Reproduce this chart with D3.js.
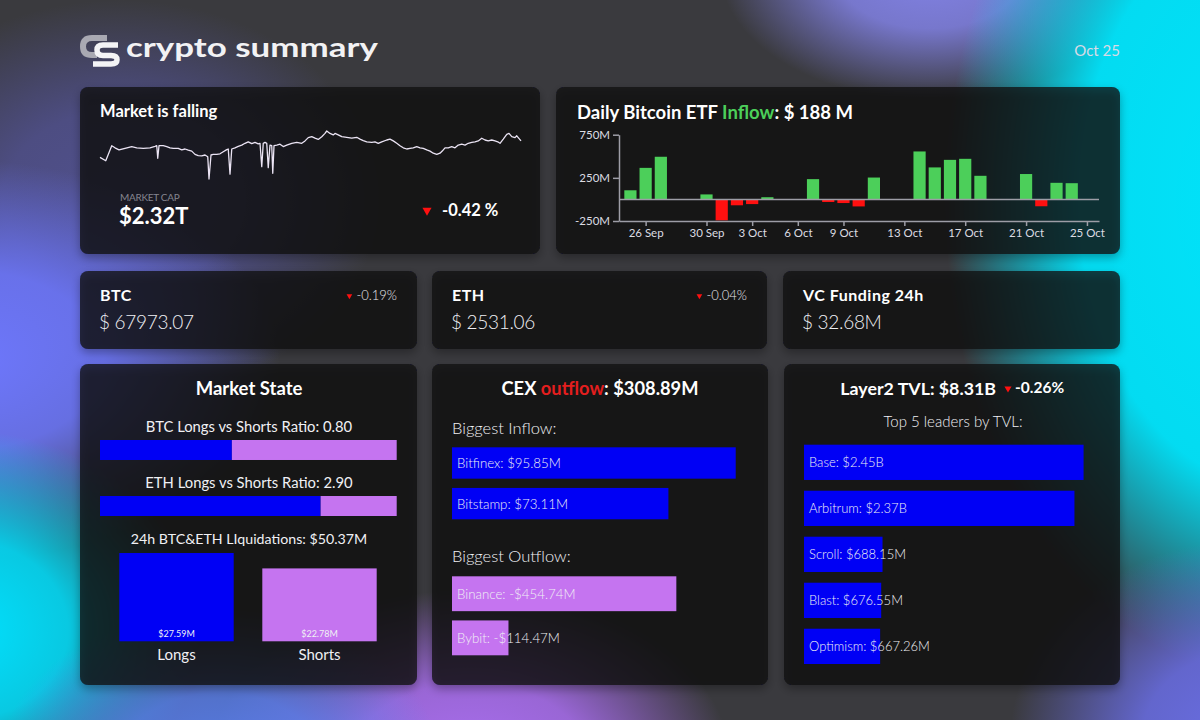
<!DOCTYPE html>
<html><head><meta charset="utf-8">
<script src="https://cdn.jsdelivr.net/npm/d3@7"></script>
<style>
html,body{margin:0;padding:0;background:#3a3a3f;overflow:hidden;}
svg{display:block;}
text{font-family:Lato,'Open Sans',sans-serif;}
</style></head><body>
<svg id="c" width="1200" height="720"></svg>
<script>
// ---------------- DATA ----------------
const headerTitle = "crypto summary";
const headerDate = "Oct 25";

const capHours = [0,2.3,4.7,6.0,7.6,10.0,12.7,14.7,17.3,20.0,22.0,22.7,23.1,23.6,25.3,26.7,28.0,29.3,31.3,32.7,34.0,35.3,36.7,38.0,39.3,40.7,42.0,43.1,43.6,44.4,45.3,46.7,48.0,49.3,50.7,51.3,52.0,52.7,54.0,55.3,56.7,58.0,59.3,60.7,62.0,63.3,64.0,64.7,65.3,66.0,66.7,67.3,68.0,68.7,69.1,69.6,70.7,72.0,73.3,74.7,76.7,78.7,80.7,82.0,83.3,84.7,86.0,87.3,88.7,90.0,90.7,92.0,93.3,94.0,95.3,96.7,98.7,100.7,102.7,104.0,105.3,106.7,108.7,110.0,111.3,112.7,114.7,116.0,117.3,118.7,120.0,121.3,122.7,124.0,125.3,126.7,128.0,129.3,130.7,132.0,133.3,134.7,136.0,136.9,138.0,139.3,140.7,142.0,143.3,144.7,146.0,147.3,148.7,150.0,151.3,152.7,154.0,155.3,156.7,158.0,159.1,160.0,161.3,162.7,163.6,164.7,166.0,166.7,167.3,168.4];
const capValues = [2.292,2.281,2.331,2.324,2.317,2.322,2.328,2.324,2.322,2.324,2.329,2.331,2.289,2.331,2.331,2.328,2.324,2.322,2.322,2.317,2.320,2.316,2.313,2.302,2.298,2.297,2.300,2.294,2.220,2.300,2.302,2.302,2.304,2.311,2.318,2.320,2.236,2.320,2.324,2.329,2.333,2.339,2.344,2.338,2.342,2.337,2.339,2.261,2.339,2.342,2.339,2.258,2.333,2.331,2.239,2.331,2.333,2.336,2.328,2.333,2.339,2.342,2.339,2.347,2.358,2.361,2.356,2.352,2.361,2.372,2.380,2.372,2.367,2.372,2.367,2.361,2.359,2.356,2.359,2.353,2.348,2.344,2.342,2.344,2.339,2.344,2.350,2.353,2.347,2.339,2.331,2.324,2.320,2.322,2.324,2.328,2.324,2.322,2.317,2.313,2.306,2.302,2.306,2.313,2.324,2.324,2.328,2.324,2.333,2.336,2.333,2.339,2.342,2.344,2.347,2.356,2.350,2.347,2.350,2.347,2.344,2.339,2.353,2.369,2.372,2.361,2.358,2.364,2.358,2.347];
const marketCapLabel = "$2.32T";
const marketChange = "-0.42 %";

const etfDates = ["2024-09-25","2024-09-26","2024-09-27","2024-09-30","2024-10-01","2024-10-02","2024-10-03","2024-10-04","2024-10-07","2024-10-08","2024-10-09","2024-10-10","2024-10-11","2024-10-14","2024-10-15","2024-10-16","2024-10-17","2024-10-18","2024-10-21","2024-10-22","2024-10-23","2024-10-24"];
const etfValues = [105.9,365.7,494.4,58,-242.3,-68,-54.1,25.6,235.2,-30,-42,-81.1,253.6,555.9,371.0,458.5,470.5,273.7,294.3,-79.1,192.4,188.1];
const etfTickDates = ["2024-09-26","2024-09-30","2024-10-03","2024-10-06","2024-10-09","2024-10-13","2024-10-17","2024-10-21","2024-10-25"];
const etfYTicks = [-250,250,750];
const etfLatest = "$ 188 M";

const tickerNames = ["BTC","ETH","VC Funding 24h"];
const tickerValues = ["$ 67973.07","$ 2531.06","$ 32.68M"];
const tickerChanges = ["-0.19%","-0.04%",""];

const ratioLabels = ["BTC","ETH"];
const ratioValues = [0.80, 2.90];
const liqTotal = "$50.37M";
const liqLabels = ["Longs","Shorts"];
const liqValues = [27.59, 22.78];

const cexTotal = "$308.89M";
const inflowNames = ["Bitfinex","Bitstamp"];
const inflowValues = [95.85, 73.11];
const outflowNames = ["Binance","Bybit"];
const outflowValues = [454.74, 114.47];

const l2Total = "$8.31B";
const l2Change = "-0.26%";
const l2Names = ["Base","Arbitrum","Scroll","Blast","Optimism"];
const l2Values = [2.45, 2.37, 0.68815, 0.67655, 0.66726];

// ---------------- DRAW ----------------
const BLUE = "#0000f5", PURPLE = "#c574f0", RED = "#ff1010", GREEN = "#4ccf5a";
const svg = d3.select("#c");
const defs = svg.append("defs");

// background
svg.append("rect").attr("width",1200).attr("height",720).attr("fill","#3a3a3e");
const blobs = [
  {id:"b0", cx:120, cy:200, rx:260, ry:200, c:"#5a5ab0", o:0.7, s:[[0,1],[0.45,0.85],[1,0]]},
  {id:"b2", cx:930, cy:-30, rx:210, ry:130, c:"#8a8af8", o:0.9, s:[[0,1],[0.45,0.85],[1,0]]},
  {id:"b1", cx:1280, cy:200, rx:335, ry:480, c:"#00e4fb", o:1, s:[[0,1],[0.6,0.95],[1,0]]},
  {id:"b3", cx:-40, cy:360, rx:320, ry:200, c:"#6e78ff", o:1, s:[[0,1],[0.45,0.85],[1,0]]},
  {id:"b4", cx:-40, cy:630, rx:240, ry:200, c:"#00e2ff", o:1, s:[[0,1],[0.45,0.85],[1,0]]},
  {id:"b5", cx:470, cy:760, rx:260, ry:170, c:"#aa6ef0", o:1, s:[[0,1],[0.45,0.85],[1,0]]},
  {id:"b6", cx:220, cy:760, rx:220, ry:150, c:"#5a82f5", o:0.9, s:[[0,1],[0.45,0.85],[1,0]]},
  {id:"b7", cx:1250, cy:740, rx:240, ry:200, c:"#6a6ee6", o:1, s:[[0,1],[0.45,0.85],[1,0]]}
];
blobs.forEach(b=>{
  const g = defs.append("radialGradient").attr("id",b.id).attr("gradientUnits","userSpaceOnUse")
    .attr("cx",0).attr("cy",0).attr("r",1)
    .attr("gradientTransform",`translate(${b.cx},${b.cy}) scale(${b.rx},${b.ry})`);
  b.s.forEach(([off,k])=>g.append("stop").attr("offset",off).attr("stop-color",b.c).attr("stop-opacity",b.o*k));
  svg.append("rect").attr("width",1200).attr("height",720).attr("fill",`url(#${b.id})`);
});

const sh = defs.append("filter").attr("id","sh").attr("x","-10%").attr("y","-10%").attr("width","120%").attr("height","130%");
sh.append("feDropShadow").attr("dx",0).attr("dy",4).attr("stdDeviation",5).attr("flood-color","#000").attr("flood-opacity",0.4);

function panel(x,y,w,h){
  svg.append("rect").attr("x",x).attr("y",y).attr("width",w).attr("height",h).attr("rx",8)
    .attr("fill","rgba(12,12,16,0.77)").attr("filter","url(#sh)");
}
function tri(x,y,size){
  svg.append("path").attr("d",d3.symbol().type(d3.symbolTriangle).size(size)())
    .attr("transform",`translate(${x},${y}) rotate(180)`).attr("fill",RED);
}
function txt(x,y,s,opt){
  const t = svg.append("text").attr("x",x).attr("y",y).text(s)
    .attr("fill",opt.fill||"#fff").attr("font-size",opt.size||14)
    .attr("font-weight",opt.weight||400);
  if(opt.anchor) t.attr("text-anchor",opt.anchor);
  if(opt.ls) t.attr("letter-spacing",opt.ls);
  return t;
}

// header
const logo = svg.append("g");
logo.append("path").attr("d","M107 38 H92 Q83 38 83 46.5 Q83 55 92 55 H97")
  .attr("fill","none").attr("stroke","#a9a9b2").attr("stroke-width",6);
logo.append("path").attr("d","M118 45 H103 Q97 45 97 50 Q97 55.5 103 55.5 H111 Q117 55.5 117 59.8 Q117 64 111 64 H93")
  .attr("fill","none").attr("stroke","#f4f4f6").attr("stroke-width",5.5);
txt(126,57,headerTitle,{size:27,weight:700,fill:"#f2f2f4"}).attr("textLength",252).attr("lengthAdjust","spacingAndGlyphs");
txt(1120,56,headerDate,{size:15,fill:"#d8dae6",anchor:"end"});

// panel A: market
panel(80,87,460,167);
txt(100,117,"Market is falling",{size:16.5,weight:700});
const cx = d3.scaleLinear().domain([0,168.4]).range([100,521]);
const cy = d3.scaleLinear().domain([2.20,2.40]).range([185,125]);
svg.append("path").datum(capHours.map((h,i)=>[h,capValues[i]]))
  .attr("d",d3.line().x(d=>cx(d[0])).y(d=>cy(d[1])))
  .attr("fill","none").attr("stroke","#ebe4f4").attr("stroke-width",1.3).attr("stroke-linejoin","round");
txt(120,201,"MARKET CAP",{size:10,fill:"#85858f",ls:-0.3});
txt(119,224,marketCapLabel,{size:22,weight:700});
tri(427,210.5,36);
txt(442,216,marketChange,{size:16.5,weight:700});

// panel B: ETF
panel(556,87,564,167);
const et = txt(577,119,"Daily Bitcoin ETF ",{size:18.5,weight:700});
et.append("tspan").attr("fill",GREEN).text("Inflow");
et.append("tspan").text(": "+etfLatest);
const parse = d3.timeParse("%Y-%m-%d");
const ex = d3.scaleTime().domain([new Date(2024,8,24,6), new Date(2024,9,25,19)]).range([619,1099]);
const ey = d3.scaleLinear().domain([-250,750]).range([221,134.7]);
svg.append("g").selectAll("rect").data(etfDates.map((d,i)=>({d:parse(d),v:etfValues[i]}))).join("rect")
  .attr("x",d=>ex(d.d)-6.1).attr("width",12.2)
  .attr("y",d=>ey(Math.max(0,d.v))).attr("height",d=>Math.abs(ey(d.v)-ey(0)))
  .attr("fill",d=>d.v>=0?GREEN:RED);
svg.append("line").attr("x1",619).attr("x2",1099).attr("y1",ey(0)).attr("y2",ey(0))
  .attr("stroke","#9d9da6").attr("stroke-width",1.5);
const gy = svg.append("g").attr("transform","translate(619,0)")
  .call(d3.axisLeft(ey).tickValues(etfYTicks).tickFormat(d=>d+"M").tickSize(6).tickSizeOuter(0));
const gx = svg.append("g").attr("transform","translate(0,221)")
  .call(d3.axisBottom(ex).tickValues(etfTickDates.map(parse)).tickFormat(d3.timeFormat("%-d %b")).tickSize(5).tickSizeOuter(0));
[gy,gx].forEach(g=>{
  g.attr("font-family","Lato, sans-serif").attr("font-size",11.5);
  g.selectAll("path,line").attr("stroke","#9d9da6").attr("stroke-width",1.5);
  g.selectAll("text").attr("fill","#dcdce2");
});

// row 2 tickers
const tickX = [80,432,783], tickW = [337,335,337];
tickerNames.forEach((n,i)=>{
  panel(tickX[i],271,tickW[i],78);
  txt(tickX[i]+20,301,n,{size:16,weight:700,ls:0.5});
  txt(tickX[i]+19,329,tickerValues[i],{size:19,weight:300,fill:"#f0f0f4",ls:-0.3});
  if(tickerChanges[i]){
    const right = tickX[i]+tickW[i]-20;
    const t = txt(right,300,tickerChanges[i],{size:13,weight:300,anchor:"end",fill:"#e8e8ee"});
    const w = t.node().getComputedTextLength();
    tri(right-w-7,296,14);
  }
});

// panel: Market State
panel(80,364,337,321);
txt(249,395,"Market State",{size:18.5,weight:700,anchor:"middle"});
const rx = d3.scaleLinear().domain([0,1]).range([100,396.7]);
const rb = d3.scaleBand().domain(ratioLabels).range([440,516]).paddingInner(0.643);
ratioLabels.forEach((l,i)=>{
  const r = ratioValues[i], f = r/(1+r), y0 = rb(l);
  txt(249,y0-8,`${l} Longs vs Shorts Ratio: ${r.toFixed(2)}`,{size:14.8,anchor:"middle",fill:"#f0f0f4"});
  svg.append("rect").attr("x",rx(0)).attr("y",y0).attr("width",rx(f)-rx(0)).attr("height",rb.bandwidth()).attr("fill",BLUE);
  svg.append("rect").attr("x",rx(f)).attr("y",y0).attr("width",rx(1)-rx(f)).attr("height",rb.bandwidth()).attr("fill",PURPLE);
});
txt(249,544,`24h BTC&ETH LIquidations: ${liqTotal}`,{size:14.2,anchor:"middle",fill:"#f0f0f4"});
const lb = d3.scaleBand().domain(liqLabels).range([100,396]).paddingInner(0.2).paddingOuter(0.135);
const ly = d3.scaleLinear().domain([0,30]).range([641.3,545.3]);
liqLabels.forEach((l,i)=>{
  const v = liqValues[i];
  svg.append("rect").attr("x",lb(l)).attr("y",ly(v)).attr("width",lb.bandwidth()).attr("height",ly(0)-ly(v))
    .attr("fill",i===0?BLUE:PURPLE);
  txt(lb(l)+lb.bandwidth()/2,637,"$"+v.toFixed(2)+"M",{size:9,anchor:"middle",fill:"#f0f0f4"});
  txt(lb(l)+lb.bandwidth()/2,660,l,{size:15,anchor:"middle",fill:"#f0f0f4"});
});

// panel: CEX
panel(432,364,336,321);
const ct = txt(600,395,"CEX ",{size:18.3,weight:700,anchor:"middle"});
ct.append("tspan").attr("fill","#e41e1e").text("outflow");
ct.append("tspan").text(": "+cexTotal);
txt(452,434,"Biggest Inflow:",{size:16.5,weight:300,fill:"#f0f0f4"});
txt(452,562,"Biggest Outflow:",{size:16.5,weight:300,fill:"#f0f0f4"});
const inX = d3.scaleLinear().domain([0,100]).range([0,296]);
const outX = d3.scaleLinear().domain([0,600]).range([0,296]);
const inB = d3.scaleBand().domain(inflowNames).range([447.3,519.3]).paddingInner(0.228);
const outB = d3.scaleBand().domain(outflowNames).range([576.3,655.3]).paddingInner(0.21);
inflowNames.forEach((n,i)=>{
  svg.append("rect").attr("x",452).attr("y",inB(n)).attr("width",inX(inflowValues[i])).attr("height",inB.bandwidth()).attr("fill",BLUE);
  txt(457,inB(n)+inB.bandwidth()/2+5,`${n}: $${inflowValues[i].toFixed(2)}M`,{size:13.3,weight:300,fill:"#f0f0f4"});
});
outflowNames.forEach((n,i)=>{
  svg.append("rect").attr("x",452).attr("y",outB(n)).attr("width",outX(outflowValues[i])).attr("height",outB.bandwidth()).attr("fill",PURPLE);
  txt(457,outB(n)+outB.bandwidth()/2+5,`${n}: -$${outflowValues[i].toFixed(2)}M`,{size:13.3,weight:300,fill:"#f0f0f4"});
});

// panel: Layer2
panel(784,364,336,321);
txt(996,395,`Layer2 TVL: ${l2Total}`,{size:17.8,weight:700,anchor:"end"});
tri(1008,388.5,22);
txt(1015,393,l2Change,{size:15.5,weight:700});
txt(953,427,"Top 5 leaders by TVL:",{size:15,weight:300,anchor:"middle",fill:"#f0f0f4"});
const l2x = d3.scaleLinear().domain([0,2.6]).range([0,296.7]);
const l2b = d3.scaleBand().domain(l2Names).range([444.7,664]).paddingInner(0.233);
const fmtL2 = v => v>=1 ? "$"+v.toFixed(2)+"B" : "$"+(v*1000).toFixed(2)+"M";
l2Names.forEach((n,i)=>{
  svg.append("rect").attr("x",804).attr("y",l2b(n)).attr("width",l2x(l2Values[i])).attr("height",l2b.bandwidth()).attr("fill",BLUE);
  txt(809,l2b(n)+l2b.bandwidth()/2+5,`${n}: ${fmtL2(l2Values[i])}`,{size:13,weight:300,fill:"#f0f0f4"});
});
</script>
</body></html>
